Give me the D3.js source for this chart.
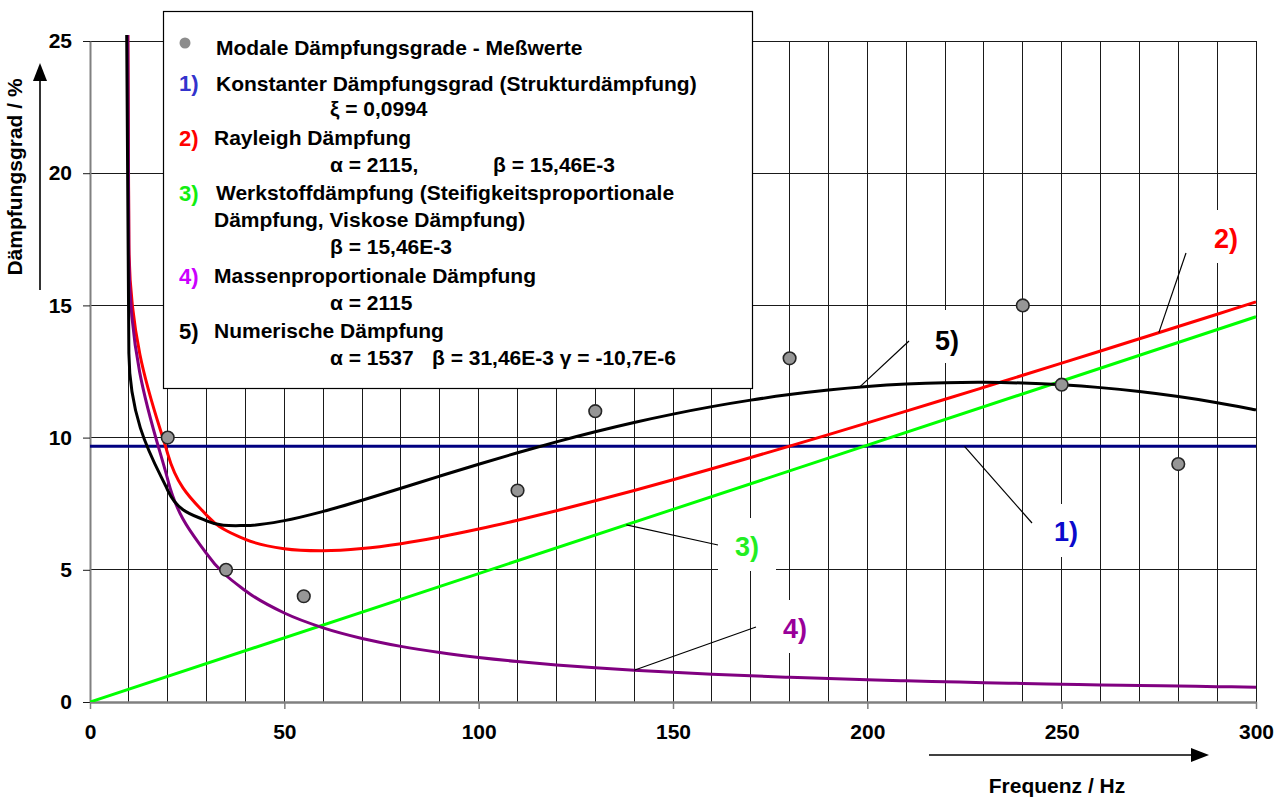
<!DOCTYPE html>
<html>
<head>
<meta charset="utf-8">
<script src="https://cdn.jsdelivr.net/npm/d3@7"></script>
<style>
  html, body { margin: 0; padding: 0; background: #ffffff; }
  svg { display: block; font-family: "Liberation Sans", Arial, sans-serif; font-weight: bold; }
</style>
</head>
<body>
<svg id="chart" width="1284" height="798"></svg>
<script>
// ---- data --------------------------------------------------------------
// frequency grid of the model curves (Hz)
const freqHz = [0.5, 10, 20, 30, 40, 50, 60, 70, 80, 90, 100, 110, 120, 130, 140, 150,
  160, 170, 180, 190, 200, 210, 220, 230, 240, 250, 260, 270, 280, 290, 300];

// 4) mass proportional damping, alpha = 2115   (%)
const massProp = [336.61, 16.831, 8.415, 5.610, 4.208, 3.366, 2.805, 2.404, 2.104, 1.870,
  1.683, 1.530, 1.403, 1.295, 1.202, 1.122, 1.052, 0.990, 0.935, 0.886, 0.842, 0.801,
  0.765, 0.732, 0.701, 0.673, 0.647, 0.623, 0.601, 0.580, 0.561];

// 2) Rayleigh damping, alpha = 2115, beta = 15.46E-3   (%)
const rayleigh = [336.64, 17.316, 9.387, 7.067, 6.150, 5.795, 5.719, 5.804, 5.989, 6.241,
  6.540, 6.873, 7.231, 7.609, 8.002, 8.407, 8.823, 9.247, 9.677, 10.114, 10.555, 11.001,
  11.450, 11.903, 12.358, 12.815, 13.275, 13.737, 14.200, 14.665, 15.132];

// 5) numerical damping, alpha = 1537, beta = 31.46E-3, gamma = -10.7E-6   (%)
const numeric = [244.67, 13.198, 8.008, 6.852, 6.673, 6.860, 7.208, 7.631, 8.084, 8.543,
  8.994, 9.428, 9.838, 10.220, 10.571, 10.888, 11.171, 11.417, 11.626, 11.798, 11.930,
  12.023, 12.077, 12.091, 12.064, 11.997, 11.890, 11.741, 11.552, 11.321, 11.049];

// 3) stiffness proportional damping, beta = 15.46E-3   (%)
const stiffFreqHz = [0, 300];
const stiffProp = [0, 14.57];

// 1) constant damping ratio   (%)
const constFreqHz = [0, 300];
const constDamp = [9.67, 9.67];

// measured modal damping ratios
const measFreqHz = [20, 35, 55, 110, 130, 180, 240, 250, 280];
const measDamp = [10, 5, 4, 8, 11, 13, 15, 12, 9];

// axis ticks
const xTicks = [0, 50, 100, 150, 200, 250, 300];
const yTicks = [0, 5, 10, 15, 20, 25];

// curve callouts: label, anchor frequency and value on the curve
const calloutLabels = ["1)", "2)", "3)", "4)", "5)"];
const calloutFreq = [225, 275, 138, 140, 198];
const calloutValue = [9.67, 13.97, 6.70, 1.20, 11.91];

// ---- layout ------------------------------------------------------------
const svg = d3.select("#chart");
const x = d3.scaleLinear().domain([0, 300]).range([90, 1256]);
const y = d3.scaleLinear().domain([0, 25]).range([702, 41]);

const FONT = 21;

// smoothed line: cubic Bezier through the points, control arms limited
// to half the segment length (keeps steep branches from overshooting)
function smoothLine(context) {
  let pts;
  return {
    areaStart() {}, areaEnd() {},
    lineStart() { pts = []; },
    point(px, py) { pts.push([+px, +py]); },
    lineEnd() {
      const n = pts.length;
      if (!n) return;
      context.moveTo(pts[0][0], pts[0][1]);
      for (let i = 0; i < n - 1; i++) {
        const a = pts[i], b = pts[i + 1];
        const prev = pts[i - 1] || a, next = pts[i + 2] || b;
        const seg = Math.hypot(b[0] - a[0], b[1] - a[1]);
        const arm = (from, to) => {
          const dx = to[0] - from[0], dy = to[1] - from[1];
          const L = Math.hypot(dx, dy) || 1;
          const k = Math.min(L / 6, seg / 2) / L;
          return [dx * k, dy * k];
        };
        const t1 = arm(prev, b), t2 = arm(a, next);
        context.bezierCurveTo(a[0] + t1[0], a[1] + t1[1], b[0] - t2[0], b[1] - t2[1], b[0], b[1]);
      }
    }
  };
}

const line = d3.line().x(d => x(d[0])).y(d => y(d[1])).curve(smoothLine);

// ---- grid --------------------------------------------------------------
const grid = svg.append("g").attr("shape-rendering", "crispEdges");
grid.selectAll("line.v")
  .data(x.ticks(30).filter(d => d > 0))
  .join("line")
  .attr("x1", d => x(d)).attr("x2", d => x(d))
  .attr("y1", y(25)).attr("y2", y(0))
  .attr("stroke", "#1a1a1a").attr("stroke-width", 1);
grid.selectAll("line.h")
  .data(yTicks.filter(d => d > 0))
  .join("line")
  .attr("x1", x(0)).attr("x2", x(300))
  .attr("y1", d => y(d)).attr("y2", d => y(d))
  .attr("stroke", "#1a1a1a").attr("stroke-width", 1);

// ---- axes --------------------------------------------------------------
const yAxis = svg.append("g")
  .attr("transform", `translate(${x(0)},0)`)
  .call(d3.axisLeft(y).tickValues(yTicks).tickSize(7).tickSizeOuter(0).tickPadding(11));
yAxis.select(".domain").attr("stroke", "#808080").attr("stroke-width", 2);
yAxis.selectAll(".tick line").attr("stroke", "#1a1a1a").attr("stroke-width", 1);

const xAxis = svg.append("g")
  .attr("transform", `translate(0,${y(0)})`)
  .call(d3.axisBottom(x).tickValues(xTicks).tickSize(7).tickSizeOuter(0).tickPadding(15));
xAxis.select(".domain").attr("stroke", "#808080").attr("stroke-width", 2.5);
xAxis.selectAll(".tick line").attr("stroke", "#808080").attr("stroke-width", 1.5);

svg.selectAll(".tick text")
  .attr("fill", "#000")
  .style("font-family", "'Liberation Sans', Arial, sans-serif")
  .style("font-weight", "bold")
  .style("font-size", FONT + "px");

// ---- curves ------------------------------------------------------------
svg.append("clipPath").attr("id", "plotClip")
  .append("rect")
  .attr("x", x(0)).attr("y", y(25) - 6)
  .attr("width", x(300) - x(0) + 2).attr("height", y(0) - y(25) + 6);

const curves = svg.append("g").attr("clip-path", "url(#plotClip)")
  .attr("fill", "none").attr("stroke-width", 3).attr("stroke-linejoin", "round");

const series = [
  { f: constFreqHz, v: constDamp, color: "#000080" },
  { f: freqHz, v: rayleigh, color: "#ff0000" },
  { f: stiffFreqHz, v: stiffProp, color: "#00ff00" },
  { f: freqHz, v: massProp, color: "#800080" },
  { f: freqHz, v: numeric, color: "#000000" }
];
curves.selectAll("path")
  .data(series)
  .join("path")
  .attr("d", s => line(d3.zip(s.f, s.v)))
  .attr("stroke", s => s.color);

// measured values
svg.append("g").selectAll("circle")
  .data(d3.zip(measFreqHz, measDamp))
  .join("circle")
  .attr("cx", d => x(d[0])).attr("cy", d => y(d[1]))
  .attr("r", 6.3)
  .attr("fill", "#969696").attr("stroke", "#262626").attr("stroke-width", 1.6);

// ---- callouts ----------------------------------------------------------
const calloutColor = ["#0a0acc", "#ff0000", "#22ee22", "#990099", "#000000"];
const calloutEnd = [[1032, 523], [1186, 253], [718, 545], [756, 627], [909, 341]];
const calloutBox = [[1037, 504], [1197, 210], [718, 518], [765, 600], [918, 310]];
const calloutText = [[1066, 541], [1226, 248], [747, 556], [795, 638], [947, 350]];

const callouts = svg.append("g");
calloutLabels.forEach((lab, i) => {
  callouts.append("line")
    .attr("x1", x(calloutFreq[i])).attr("y1", y(calloutValue[i]))
    .attr("x2", calloutEnd[i][0]).attr("y2", calloutEnd[i][1])
    .attr("stroke", "#000").attr("stroke-width", 1.2);
  callouts.append("rect")
    .attr("x", calloutBox[i][0]).attr("y", calloutBox[i][1])
    .attr("width", 58).attr("height", 53)
    .attr("fill", "#ffffff");
  callouts.append("text")
    .attr("x", calloutText[i][0]).attr("y", calloutText[i][1])
    .attr("text-anchor", "middle")
    .attr("font-size", 27)
    .attr("fill", calloutColor[i])
    .text(lab);
});

// ---- legend ------------------------------------------------------------
const legend = svg.append("g");
legend.append("rect")
  .attr("x", 163.5).attr("y", 11.5).attr("width", 589).attr("height", 377)
  .attr("fill", "#ffffff").attr("stroke", "#000").attr("stroke-width", 1.2);

legend.append("circle").attr("cx", 185).attr("cy", 43).attr("r", 5.5).attr("fill", "#8c8c8c");

const legendNums = ["1)", "2)", "3)", "4)", "5)"];
const legendNumColor = ["#3333cc", "#ff0000", "#11ee11", "#cc00ff", "#000000"];
const legendNumY = [91, 146, 201, 284, 339];
legendNums.forEach((t, i) => {
  legend.append("text").attr("x", 179).attr("y", legendNumY[i])
    .attr("font-size", 22).attr("fill", legendNumColor[i]).text(t);
});

const legendLines = [
  ["Modale Dämpfungsgrade - Meßwerte", 216, 55],
  ["Konstanter Dämpfungsgrad (Strukturdämpfung)", 216, 91],
  ["ξ = 0,0994", 330, 116],
  ["Rayleigh Dämpfung", 214, 145],
  ["α = 2115,", 330, 172],
  ["β = 15,46E-3", 493, 172],
  ["Werkstoffdämpfung (Steifigkeitsproportionale", 216, 200],
  ["Dämpfung, Viskose Dämpfung)", 214, 227],
  ["β = 15,46E-3", 330, 254],
  ["Massenproportionale Dämpfung", 214, 283],
  ["α = 2115", 330, 310],
  ["Numerische Dämpfung", 214, 338],
  ["α = 1537", 330, 365],
  ["β = 31,46E-3 γ = -10,7E-6", 432, 365]
];
legend.selectAll("text.row")
  .data(legendLines)
  .join("text")
  .attr("class", "row")
  .attr("x", d => d[1]).attr("y", d => d[2])
  .attr("font-size", FONT).attr("fill", "#000")
  .text(d => d[0]);

// ---- axis titles with arrows -------------------------------------------
svg.append("text")
  .attr("transform", "translate(22,177) rotate(-90)")
  .attr("text-anchor", "middle").attr("font-size", FONT)
  .text("Dämpfungsgrad / %");
svg.append("line").attr("x1", 40).attr("y1", 290).attr("x2", 40).attr("y2", 78)
  .attr("stroke", "#000").attr("stroke-width", 1.6);
svg.append("path").attr("d", "M40,63 L33,81 L47,81 Z").attr("fill", "#000");

svg.append("text")
  .attr("x", 1057).attr("y", 793)
  .attr("text-anchor", "middle").attr("font-size", FONT)
  .text("Frequenz / Hz");
svg.append("line").attr("x1", 929).attr("y1", 755).attr("x2", 1194).attr("y2", 755)
  .attr("stroke", "#000").attr("stroke-width", 1.6);
svg.append("path").attr("d", "M1209,755 L1191,748 L1191,762 Z").attr("fill", "#000");
</script>
</body>
</html>
